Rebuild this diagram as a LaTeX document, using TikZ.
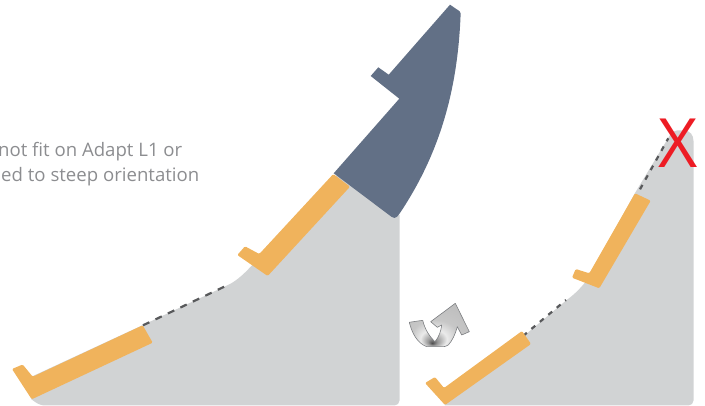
\documentclass[tikz,border=0pt]{standalone}
\usepackage{fontspec}
\setmainfont{Open Sans}
\usetikzlibrary{arrows.meta, positioning}
\definecolor{slopegray}{RGB}{209,211,212}
\definecolor{padorange}{RGB}{240,179,92}
\definecolor{handleslate}{RGB}{98,112,134}
\definecolor{dashgray}{RGB}{88,89,91}
\definecolor{notegray}{RGB}{140,141,144}
\definecolor{crossred}{RGB}{237,28,36}
\definecolor{turnline}{RGB}{125,127,130}
\pgfdeclareradialshading{turnshade}{\pgfpoint{-6bp}{-21bp}}{
  color(0bp)=(black!70);
  color(4bp)=(black!40);
  color(11bp)=(white!92!black);
  color(19bp)=(black!22);
  color(50bp)=(black!30)}

\begin{document}
\begin{tikzpicture}[
    x=1pt, y=-1pt,
    slope/.style={fill=slopegray},
    pad/.style={fill=padorange, rounded corners=1.2pt},
    gapline/.style={draw=dashgray, line width=2.2pt},
    note/.style={text=notegray, font=\fontsize{18.6}{22}\selectfont, inner sep=0pt, anchor=base east}
]
    \useasboundingbox (0,0) rectangle (705,406);

    % Left slope
    \fill[slope] (31,399) -- (33,376) -- (143,325) -- (229,284.5)
        .. controls (238,280) and (246,272) .. (255,262) -- (340,172) -- (399.5,215)
        [rounded corners=5pt] -- (399.5,405.5) -- (40,405.5) [sharp corners] -- cycle;
    \draw[gapline, dash pattern=on 7pt off 6.8pt] (143,325.3) -- (229.3,284.3);
    \fill[pad] (12,369) -- (22.7,364.5) -- (32.7,376.7) -- (142.7,325.3) -- (152.7,342.7) -- (31.7,399.3) -- cycle;
    \fill[pad] (237.3,255) -- (245,246.3) -- (259.3,254) -- (333.3,174) -- (350,186.7) -- (267.7,276) -- cycle;

    % Handle
    \fill[handleslate] [rounded corners=1.5pt] (450,4.7) -- (460.7,12) [sharp corners]
        .. controls (458,85) and (442,150) .. (400,213)
        [rounded corners=1.5pt] -- (396,218) -- (392.7,217.7) [sharp corners] -- (333.7,173.3) -- (399.3,98.7)
        -- (370.7,76) -- (378.3,67.3) -- (388.7,74.7) -- cycle;

    % Turn arrow
    \path[shading=turnshade, draw=turnline, line width=0.6pt, line join=round]
        (409.3,322.3) -- (422.7,320.3) .. controls (425,330) and (430,337) .. (435,341.7)
        .. controls (439,337) and (441,331) .. (441.7,325) -- (437.3,327.3) -- (430.7,321.7)
        -- (455.3,303.3) -- (469.3,331.7) -- (461.7,335) -- (457.3,326.7)
        .. controls (455,335) and (452,341) .. (448.3,345)
        .. controls (446,346.5) and (444,346.7) .. (443,346.7) -- (426.7,346.7)
        .. controls (417,343) and (412,333) .. cycle;

    % Right slope
    \fill[slope] (445,405.5) -- (440,392) -- (525,335) -- (566.7,300)
        .. controls (575,294) and (582,287) .. (590,276) -- (635,193) -- (670,135)
        .. controls (672,132) and (674,130.5) .. (677,130.5) -- (684,130.5)
        .. controls (690,130.5) and (693.5,135) .. (693.5,141)
        [rounded corners=5pt] -- (693.5,405.5) [sharp corners] -- cycle;
    \draw[gapline, dash pattern=on 5pt off 6pt] (523,336) -- (566,300);
    \draw[gapline, dash pattern=on 5pt off 6pt] (640,189.3) -- (668.3,138.3);
    \fill[pad] (425,383) -- (435,377) -- (444,388) -- (522,331) -- (531,344) -- (445,405) -- cycle;
    \fill[pad] (572,277.7) -- (575.7,269) -- (589.3,273.3) -- (635,193.3) -- (650.7,200.7) -- (599.3,288.3) -- cycle;

    % Labels
    \node[text=crossred, font=\fontsize{68}{68}\selectfont, inner sep=0pt] (cross) at (678,143) {X};
    \node[note] (note_a) at (182.5,156.5) {not fit on Adapt L1 or};
    \node[note] (note_b) at (199.5,181.5) {ed to steep orientation};
\end{tikzpicture}
\end{document}
